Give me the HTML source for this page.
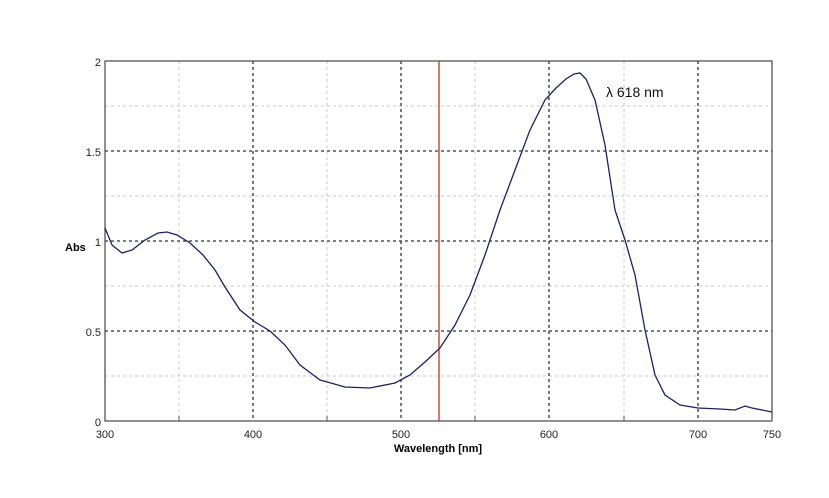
<!DOCTYPE html>
<html><head><style>body{margin:0;background:#fff}</style></head><body>
<svg width="829" height="493" xmlns="http://www.w3.org/2000/svg" font-family="Liberation Sans, Arial, sans-serif">
<rect width="829" height="493" fill="#fff"/>
<g stroke="#c8c8c8" stroke-width="1" stroke-dasharray="3,3">
<line x1="179" y1="61" x2="179" y2="421"/><line x1="327" y1="61" x2="327" y2="421"/>
<line x1="475" y1="61" x2="475" y2="421"/><line x1="624" y1="61" x2="624" y2="421"/>
<line x1="105" y1="106" x2="772" y2="106"/><line x1="105" y1="196" x2="772" y2="196"/>
<line x1="105" y1="286" x2="772" y2="286"/><line x1="105" y1="376" x2="772" y2="376"/>
</g>
<g stroke="#333" stroke-width="1.3" stroke-dasharray="3,3">
<line x1="253" y1="61" x2="253" y2="421"/><line x1="401" y1="61" x2="401" y2="421"/>
<line x1="549" y1="61" x2="549" y2="421"/><line x1="698" y1="61" x2="698" y2="421"/>
<line x1="105" y1="151" x2="772" y2="151"/><line x1="105" y1="241" x2="772" y2="241"/>
<line x1="105" y1="331" x2="772" y2="331"/>
</g>
<rect x="105" y="61" width="667" height="360" fill="none" stroke="#555" stroke-width="1.3"/>
<g stroke="#555"><line x1="179" y1="421" x2="179" y2="416"/><line x1="327" y1="421" x2="327" y2="416"/><line x1="475" y1="421" x2="475" y2="416"/><line x1="624" y1="421" x2="624" y2="416"/></g>
<line x1="439" y1="61" x2="439" y2="421" stroke="#c0302a" stroke-width="1.3"/>
<polyline fill="none" stroke="#1f1f66" stroke-width="1.3" points="105,228 112,245 122,253 132,250 145,240 158,233 167,232 177,235 190,243 203,255 215,270 225,287 240,310 255,322 270,331 285,345 300,365 320,380 345,387 370,388 395,383 410,375 425,362 440,348 455,325 470,295 485,255 500,210 515,170 530,130 545,100 556,88 566,79 574,74 580,73 586,79 595,100 605,145 615,210 625,240 635,275 645,330 655,375 665,395 680,405 698,408 720,409 735,410 745,406 752,408 772,412"/>
<g font-size="11" fill="#222" text-anchor="middle">
<text x="105" y="438">300</text><text x="253" y="438">400</text><text x="401" y="438">500</text>
<text x="549" y="438">600</text><text x="698" y="438">700</text><text x="772" y="438">750</text>
</g>
<g font-size="11" fill="#222" text-anchor="end">
<text x="101" y="66">2</text><text x="101" y="156">1.5</text><text x="101" y="246">1</text>
<text x="101" y="336">0.5</text><text x="101" y="426">0</text>
</g>
<text x="65" y="251" font-size="11" font-weight="bold">Abs</text>
<text x="438" y="452" font-size="11" font-weight="bold" text-anchor="middle">Wavelength [nm]</text>
<text x="606" y="97" font-size="14" fill="#111">λ 618 nm</text>
</svg>
</body></html>
